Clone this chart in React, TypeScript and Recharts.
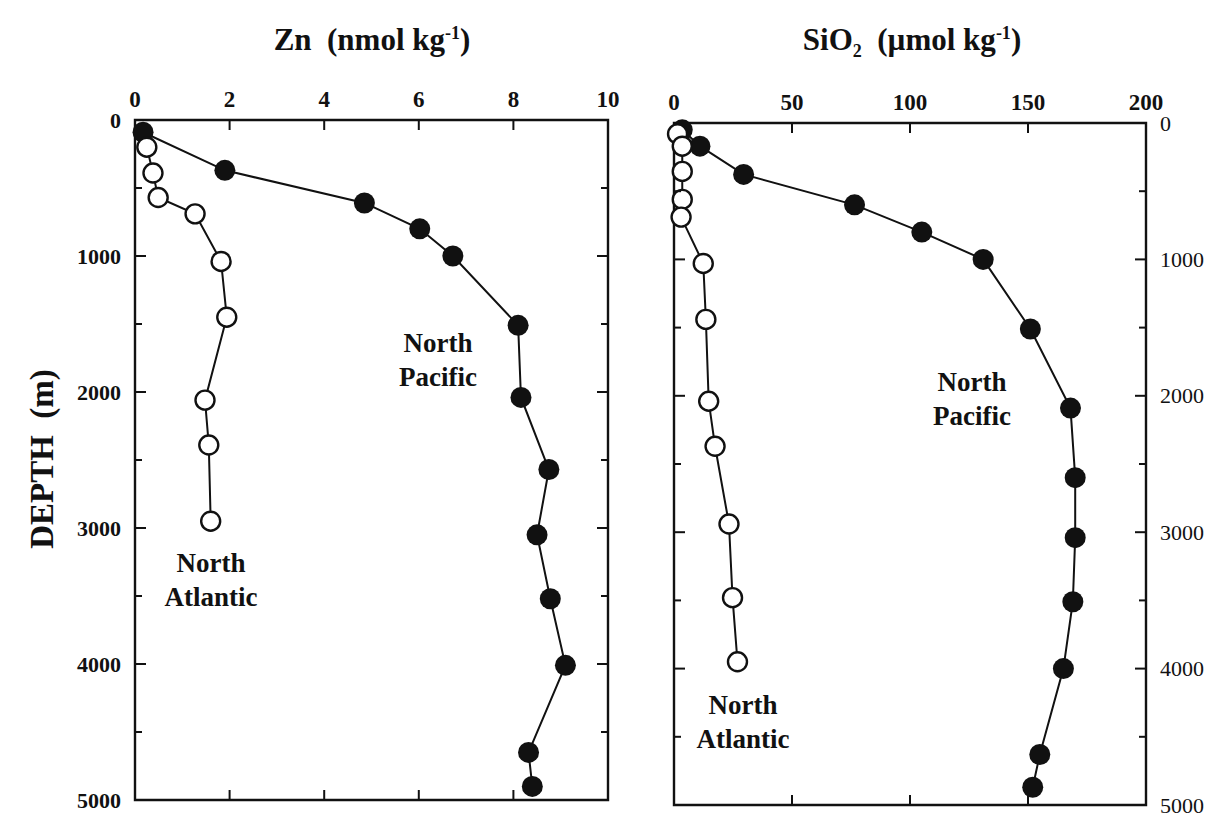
import { ReferenceArea, Scatter, ScatterChart, XAxis, YAxis } from "recharts";

// depth profiles
const znPacificDepth = [90, 370, 610, 800, 1000, 1510, 2040, 2570, 3050, 3520, 4010, 4650, 4900];
const znPacific = [0.17, 1.9, 4.85, 6.02, 6.72, 8.1, 8.16, 8.75, 8.5, 8.78, 9.1, 8.32, 8.4];
const znAtlanticDepth = [200, 390, 570, 690, 1040, 1450, 2060, 2390, 2950];
const znAtlantic = [0.25, 0.38, 0.49, 1.27, 1.82, 1.94, 1.48, 1.56, 1.6];

const siPacificDepth = [50, 170, 377, 600, 800, 1000, 1510, 2090, 2600, 3040, 3510, 4000, 4630, 4870];
const siPacific = [3.5, 11, 29.5, 76.5, 105, 131, 151, 168, 170, 170, 169, 165, 155, 152];
const siAtlanticDepth = [80, 170, 355, 560, 690, 1030, 1440, 2040, 2370, 2940, 3480, 3950];
const siAtlantic = [1.5, 3.5, 3.5, 3.5, 3, 12.4, 13.5, 14.7, 17.4, 23.3, 24.8, 26.9];

const znTicks = [0, 2, 4, 6, 8, 10];
const siTicks = [0, 50, 100, 150, 200];
const depthTicks = [0, 500, 1000, 1500, 2000, 2500, 3000, 3500, 4000, 4500, 5000];

const FONT = '"Liberation Serif", "DejaVu Serif", serif';

const toPoints = (xs: number[], ys: number[]) => xs.map((x, i) => ({ x, y: ys[i] }));

const filledDot = (p: any) => <circle cx={p.cx} cy={p.cy} r={10.5} fill="#111" />;
const openDot = (p: any) => <circle cx={p.cx} cy={p.cy} r={9.5} fill="#fff" stroke="#111" strokeWidth={2.4} />;

// frame geometry in each chart's own svg coords
type Frame = { left: number; right: number; top: number; bottom: number };

const makeXTick = (f: Frame, maxVal: number) => (props: any) => {
  const { x, payload } = props;
  const inner = payload.value !== 0 && payload.value !== maxVal;
  return (
    <g>
      {inner && <line x1={x} x2={x} y1={f.top} y2={f.top + 10} stroke="#111" strokeWidth={2} />}
      {inner && <line x1={x} x2={x} y1={f.bottom} y2={f.bottom - 10} stroke="#111" strokeWidth={2} />}
      <text x={x} y={f.top - 21} textAnchor="middle" dominantBaseline="central" fontFamily={FONT} fontWeight="bold" fontSize={23} fill="#111">
        {payload.value}
      </text>
    </g>
  );
};

const makeYTick = (f: Frame, side: "left" | "right") => (props: any) => {
  const { y, payload } = props;
  const v = payload.value as number;
  const major = v % 1000 === 0;
  const len = major ? 11 : 7;
  const edge = v !== 0 && v !== 5000;
  return (
    <g>
      {edge && <line x1={f.left} x2={f.left + len} y1={y} y2={y} stroke="#111" strokeWidth={2} />}
      {edge && <line x1={f.right} x2={f.right - len} y1={y} y2={y} stroke="#111" strokeWidth={2} />}
      {major && (
        <text
          x={side === "left" ? f.left - 14 : f.right + 14}
          y={y}
          textAnchor={side === "left" ? "end" : "start"}
          dominantBaseline="central"
          fontFamily={FONT}
          fontSize={22}
          fontWeight={side === "left" ? "bold" : "normal"}
          fill="#111"
        >
          {v}
        </text>
      )}
    </g>
  );
};

const Note = ({ x, y, lines }: { x: number; y: number; lines: string[] }) => (
  <div
    style={{
      position: "absolute",
      left: x - 80,
      top: y,
      width: 160,
      textAlign: "center",
      fontFamily: FONT,
      fontWeight: "bold",
      fontSize: 27,
      lineHeight: "34px",
      color: "#111",
    }}
  >
    {lines.map((l) => (
      <div key={l}>{l}</div>
    ))}
  </div>
);

export default function App() {
  const leftFrame = { left: 135, right: 608, top: 120, bottom: 800 };
  const rightFrame = { left: 34, right: 506, top: 123, bottom: 805 };

  return (
    <div style={{ position: "absolute", left: 0, top: 0, width: 1211, height: 818, background: "#fff", overflow: "hidden" }}>
      {/* left: Zn */}
      <div style={{ position: "absolute", left: 0, top: 0 }}>
        <ScatterChart width={640} height={818} margin={{ top: 80, left: 75, right: 32, bottom: 18 }}>
          <XAxis
            type="number"
            dataKey="x"
            orientation="top"
            height={40}
            domain={[0, 10]}
            ticks={znTicks}
            interval={0}
            axisLine={false}
            tickLine={false}
            tick={makeXTick(leftFrame, 10)}
          />
          <YAxis
            type="number"
            dataKey="y"
            reversed
            width={60}
            domain={[0, 5000]}
            ticks={depthTicks}
            interval={0}
            axisLine={false}
            tickLine={false}
            tick={makeYTick(leftFrame, "left")}
          />
          <ReferenceArea x1={0} x2={10} y1={0} y2={5000} fill="none" stroke="#111" strokeWidth={2.4} />
          <Scatter
            data={toPoints(znPacific, znPacificDepth)}
            line={{ stroke: "#111", strokeWidth: 2 }}
            shape={filledDot}
            isAnimationActive={false}
          />
          <Scatter
            data={toPoints(znAtlantic, znAtlanticDepth)}
            line={{ stroke: "#111", strokeWidth: 2 }}
            shape={openDot}
            isAnimationActive={false}
          />
        </ScatterChart>
      </div>

      {/* right: SiO2 */}
      <div style={{ position: "absolute", left: 640, top: 0 }}>
        <ScatterChart width={571} height={818} margin={{ top: 83, left: 34, right: 5, bottom: 13 }}>
          <XAxis
            type="number"
            dataKey="x"
            orientation="top"
            height={40}
            domain={[0, 200]}
            ticks={siTicks}
            interval={0}
            axisLine={false}
            tickLine={false}
            tick={makeXTick(rightFrame, 200)}
          />
          <YAxis
            type="number"
            dataKey="y"
            orientation="right"
            reversed
            width={60}
            domain={[0, 5000]}
            ticks={depthTicks}
            interval={0}
            axisLine={false}
            tickLine={false}
            tick={makeYTick(rightFrame, "right")}
          />
          <ReferenceArea x1={0} x2={200} y1={0} y2={5000} fill="none" stroke="#111" strokeWidth={2.4} />
          <Scatter
            data={toPoints(siPacific, siPacificDepth)}
            line={{ stroke: "#111", strokeWidth: 2 }}
            shape={filledDot}
            isAnimationActive={false}
          />
          <Scatter
            data={toPoints(siAtlantic, siAtlanticDepth)}
            line={{ stroke: "#111", strokeWidth: 2 }}
            shape={openDot}
            isAnimationActive={false}
          />
        </ScatterChart>
      </div>

      {/* axis titles */}
      <div style={{ position: "absolute", left: 222, top: 22, width: 300, textAlign: "center", fontFamily: FONT, fontWeight: "bold", fontSize: 31, color: "#111" }}>
        Zn&nbsp;&nbsp;(nmol kg<sup style={{ fontSize: 18 }}>-1</sup>)
      </div>
      <div style={{ position: "absolute", left: 762, top: 22, width: 300, textAlign: "center", fontFamily: FONT, fontWeight: "bold", fontSize: 31, color: "#111" }}>
        SiO<sub style={{ fontSize: 18 }}>2</sub>&nbsp;&nbsp;(µmol kg<sup style={{ fontSize: 18 }}>-1</sup>)
      </div>
      <div
        style={{
          position: "absolute",
          left: 42 - 120,
          top: 459 - 20,
          width: 240,
          height: 40,
          lineHeight: "40px",
          textAlign: "center",
          transform: "rotate(-90deg)",
          fontFamily: FONT,
          fontWeight: "bold",
          fontSize: 33,
          color: "#111",
        }}
      >
        DEPTH&nbsp;&nbsp;(m)
      </div>

      {/* series notes */}
      <Note x={438} y={326} lines={["North", "Pacific"]} />
      <Note x={211} y={546} lines={["North", "Atlantic"]} />
      <Note x={972} y={365} lines={["North", "Pacific"]} />
      <Note x={743} y={688} lines={["North", "Atlantic"]} />
    </div>
  );
}
